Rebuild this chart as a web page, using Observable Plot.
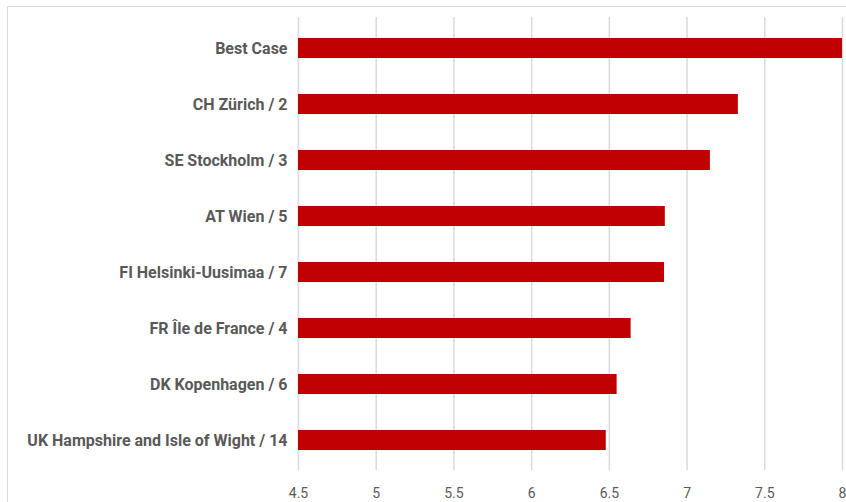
<!DOCTYPE html>
<html>
<head>
<meta charset="utf-8">
<script src="https://cdn.jsdelivr.net/npm/d3@7"></script>
<script src="https://cdn.jsdelivr.net/npm/@observablehq/plot@0.6"></script>
<style>
  html, body { margin: 0; padding: 0; background: #fff; }
  #wrap { position: relative; width: 846px; height: 502px; overflow: hidden; }
  #frame { position: absolute; left: 7px; top: 6px; width: 860px; height: 520px;
           border: 1.5px solid #d9d9d9; box-sizing: border-box; }
  #chart { position: absolute; left: 0; top: 0; }
</style>
</head>
<body>
<div id="wrap"><div id="frame"></div><div id="chart"></div></div>
<script>
const regions = [
  "Best Case",
  "CH Zürich / 2",
  "SE Stockholm / 3",
  "AT Wien / 5",
  "FI Helsinki-Uusimaa / 7",
  "FR Île de France / 4",
  "DK Kopenhagen / 6",
  "UK Hampshire and Isle of Wight / 14"
];
const scores = [8.0, 7.33, 7.15, 6.86, 6.855, 6.64, 6.55, 6.48];
const xTicks = [4.5, 5, 5.5, 6, 6.5, 7, 7.5, 8];

const data = regions.map((r, i) => ({region: r, score: scores[i]}));

const chart = Plot.plot({
  width: 846,
  height: 502,
  marginLeft: 298,
  marginRight: 4,
  marginTop: 17,
  marginBottom: 32,
  style: {background: "transparent", fontFamily: "'Roboto', sans-serif"},
  x: {domain: [4.5, 8], ticks: xTicks, label: null},
  y: {domain: regions, paddingInner: 0.646, paddingOuter: 0.323, label: null},
  marks: [
    Plot.gridX(xTicks, {stroke: "#d9d9d9", strokeOpacity: 1, strokeWidth: 1.5}),
    Plot.barX(data, {x1: 4.5, x2: "score", y: "region", fill: "#C00000"}),
    Plot.axisX(xTicks, {tickSize: 0, tickPadding: 18, fontSize: 14, fill: "#595959", tickFormat: d => String(d)}),
    Plot.axisY({tickSize: 0, tickPadding: 11, fontSize: 16, fontWeight: "bold", fill: "#595959"})
  ]
});
document.getElementById("chart").appendChild(chart);
</script>
</body>
</html>
